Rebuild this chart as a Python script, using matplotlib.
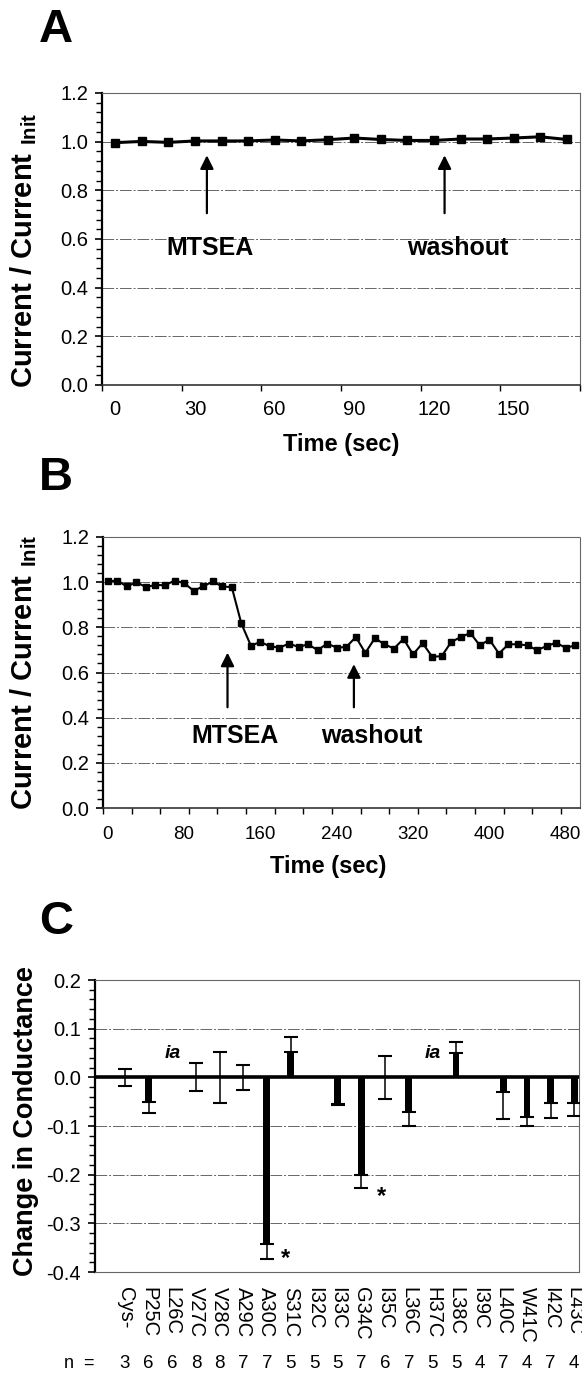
import matplotlib
matplotlib.use('Agg')
import matplotlib.pyplot as plt
import numpy as np
from matplotlib.ticker import MultipleLocator, FormatStrFormatter

plt.rcParams['font.family'] = ['Liberation Sans', 'DejaVu Sans']
plt.rcParams['mathtext.fontset'] = 'custom'
plt.rcParams['mathtext.rm'] = 'Liberation Sans'
plt.rcParams['mathtext.bf'] = 'Liberation Sans:bold'

# panel A: current ratio, 10 s sampling
time_a = [0, 10, 20, 30, 40, 50, 60, 70, 80, 90, 100, 110, 120, 130, 140, 150, 160, 170]
ratio_a = [0.996, 1.001, 0.997, 1.003, 1.003, 1.003, 1.007, 1.003, 1.008, 1.015,
           1.009, 1.005, 1.005, 1.011, 1.011, 1.015, 1.020, 1.009]
xlabels_a = [0, 30, 60, 90, 120, 150]

# panel B
time_b = list(range(0, 500, 10))
ratio_b = [1.003, 1.007, 0.981, 1.000, 0.978, 0.988, 0.986, 1.007, 0.996, 0.962,
           0.981, 1.003, 0.981, 0.978, 0.817, 0.719, 0.735, 0.716, 0.710, 0.728,
           0.713, 0.725, 0.699, 0.728, 0.710, 0.713, 0.757, 0.687, 0.752, 0.725,
           0.706, 0.749, 0.680, 0.730, 0.670, 0.672, 0.735, 0.757, 0.775, 0.720,
           0.746, 0.684, 0.725, 0.725, 0.720, 0.699, 0.717, 0.732, 0.709, 0.720]
xlabels_b = [0, 80, 160, 240, 320, 400, 480]

# panel C: change in conductance per mutant
mutants = ['Cys-', 'P25C', 'L26C', 'V27C', 'V28C', 'A29C', 'A30C', 'S31C', 'I32C', 'I33C',
           'G34C', 'I35C', 'L36C', 'H37C', 'L38C', 'I39C', 'L40C', 'W41C', 'I42C', 'L43C']
change = [0.0, -0.050, np.nan, 0.0, 0.0, 0.0, -0.342, 0.052, np.nan, -0.054,
          -0.200, 0.0, -0.071, np.nan, 0.050, np.nan, -0.030, -0.081, -0.052, -0.052]
sem = [0.018, 0.023, np.nan, 0.029, 0.053, 0.026, 0.031, 0.031, np.nan, 0.003,
       0.027, 0.044, 0.029, np.nan, 0.023, np.nan, 0.055, 0.019, 0.032, 0.028]
n_cells = [3, 6, 6, 8, 8, 7, 7, 5, 5, 5, 7, 6, 7, 5, 5, 4, 7, 4, 7, 4]
inactive = ['L26C', 'H37C']
significant = ['A30C', 'G34C']

W, H = 582, 1375
fig = plt.figure(figsize=(W / 100, H / 100), dpi=100)


def box(left, top, right, bottom):
    return [left / W, 1 - bottom / H, (right - left) / W, (bottom - top) / H]


def grid_line(ax, y):
    ax.axhline(y, color='0.4', lw=0.7, ls=(0, (12, 2, 2, 2)), zorder=1)


def style_frame(ax, bottom_dotted=False):
    for s in ['top', 'right']:
        ax.spines[s].set_linestyle((0, (1, 1)))
        ax.spines[s].set_color('0.4')
        ax.spines[s].set_linewidth(0.8)
    ax.spines['left'].set_linewidth(1.6)
    if bottom_dotted:
        ax.spines['bottom'].set_linestyle((0, (1, 1)))
        ax.spines['bottom'].set_color('0.4')
        ax.spines['bottom'].set_linewidth(0.8)
    else:
        ax.spines['bottom'].set_linewidth(1.2)
        ax.spines['bottom'].set_color('0.2')


def time_panel(ax, t, r, labels, xmax, ms, lw, xfs, xpad):
    ax.set_ylim(0, 1.2)
    ax.set_xlim(-5, xmax)
    for y in [0.2, 0.4, 0.6, 0.8, 1.0]:
        grid_line(ax, y)
    ax.plot(t, r, color='k', lw=lw, marker='s', ms=ms, zorder=3)
    ax.yaxis.set_major_locator(MultipleLocator(0.2))
    ax.yaxis.set_minor_locator(MultipleLocator(0.04))
    ax.yaxis.set_major_formatter(FormatStrFormatter('%.1f'))
    ax.tick_params(axis='y', which='major', length=5, width=1.2, labelsize=14.5, pad=5)
    ax.tick_params(axis='y', which='minor', length=4, width=1.0)
    ax.set_xticks(np.arange(-5, xmax + 1, 30))
    ax.set_xticklabels([])
    ax.set_xticks(labels, minor=True)
    ax.set_xticklabels([str(v) for v in labels], minor=True)
    ax.tick_params(axis='x', which='major', length=4.5, width=1.0)
    ax.tick_params(axis='x', which='minor', length=0, labelsize=xfs, pad=xpad)
    style_frame(ax)
    ax.set_ylabel(r'Current / Current $_{\mathbf{Init}}$', fontsize=21, fontweight='bold')
    ax.set_xlabel('Time (sec)', fontsize=17, fontweight='bold')


def arrow(ax, x, y0, y1):
    ax.annotate('', xy=(x, y1), xytext=(x, y0),
                arrowprops=dict(arrowstyle='-|>', lw=1.6, color='k', mutation_scale=20,
                                shrinkA=0, shrinkB=0), zorder=4)


# ---- A
ax_a = fig.add_axes(box(102, 93, 580, 385))
time_panel(ax_a, time_a, ratio_a, xlabels_a, 175, 5.5, 2.2, 14.5, 11)
ax_a.yaxis.set_label_coords(-0.132, 0.46)
ax_a.xaxis.set_label_coords(0.5, -0.165)
arrow(ax_a, 34.5, 0.706, 0.944)
arrow(ax_a, 124, 0.706, 0.944)
ax_a.text(35.5, 0.561, 'MTSEA', fontsize=18, fontweight='bold', ha='center', va='center')
ax_a.text(129, 0.561, 'washout', fontsize=18, fontweight='bold', ha='center', va='center')

# ---- B
ax_b = fig.add_axes(box(103, 537, 580, 808))
time_panel(ax_b, time_b, ratio_b, xlabels_b, 495, 4.2, 1.5, 13.5, 13)
ax_b.yaxis.set_label_coords(-0.134, 0.5)
ax_b.xaxis.set_label_coords(0.472, -0.175)
arrow(ax_b, 125.5, 0.446, 0.688)
arrow(ax_b, 258, 0.446, 0.637)
ax_b.text(133, 0.318, 'MTSEA', fontsize=18, fontweight='bold', ha='center', va='center')
ax_b.text(277, 0.318, 'washout', fontsize=18, fontweight='bold', ha='center', va='center')

# ---- C
ax_c = fig.add_axes(box(95, 980, 579, 1272))
xc = np.arange(len(mutants))
vals = np.array(change)
errs = np.array(sem)
lower = np.where(vals > 0, 0, errs)
upper = np.where(vals < 0, 0, errs)
ax_c.set_xlim(-1.27, 19.2)
ax_c.set_ylim(-0.4, 0.2)
for y in [0.1, -0.1, -0.2, -0.3]:
    grid_line(ax_c, y)
ax_c.bar(xc, np.nan_to_num(vals), width=0.29, color='k', zorder=3)
ax_c.errorbar(xc, vals, yerr=[lower, upper], fmt='none', ecolor='k', elinewidth=1.1,
              capsize=5, capthick=1.5, zorder=4)
ax_c.axhline(0, color='k', lw=2.6, zorder=3.5)
for m in inactive:
    ax_c.text(mutants.index(m), 0.05, 'ia', fontsize=14, fontweight='bold',
              fontstyle='italic', ha='center', va='center')
for m, (sx, sy) in zip(significant, [(6.78, -0.372), (10.85, -0.244)]):
    ax_c.text(sx, sy, '*', fontsize=17, fontweight='bold', ha='center', va='center')
ax_c.yaxis.set_major_locator(MultipleLocator(0.1))
ax_c.yaxis.set_minor_locator(MultipleLocator(0.02))
ax_c.yaxis.set_major_formatter(FormatStrFormatter('%.1f'))
ax_c.tick_params(axis='y', which='major', length=5, width=1.2, labelsize=14.5, pad=5)
ax_c.tick_params(axis='y', which='minor', length=4, width=1.0)
ax_c.set_xticks(xc)
ax_c.set_xticklabels(mutants, rotation=-90, fontsize=14.5, va='top', ha='center',
                     family=['Liberation Sans Narrow', 'Liberation Sans'])
ax_c.tick_params(axis='x', length=0, pad=11)
style_frame(ax_c, bottom_dotted=True)
ax_c.set_ylabel('Change in Conductance', fontsize=19.5, fontweight='bold')
ax_c.yaxis.set_label_coords(-0.116, 0.517)
nrow = ax_c.get_xaxis_transform()
ny = (1272 - 1363) / 292
ax_c.text(-1.95, ny, 'n  =', transform=nrow, fontsize=13, ha='center', va='center')
for i, n in enumerate(n_cells):
    ax_c.text(i, ny, str(n), transform=nrow, fontsize=13.5, ha='center', va='center')

for lab, y in [('A', 30), ('B', 478), ('C', 922)]:
    fig.text(56 / W, 1 - y / H, lab, fontsize=34, fontweight='bold', ha='center', va='center')

fig.savefig('out.png', dpi=100)
